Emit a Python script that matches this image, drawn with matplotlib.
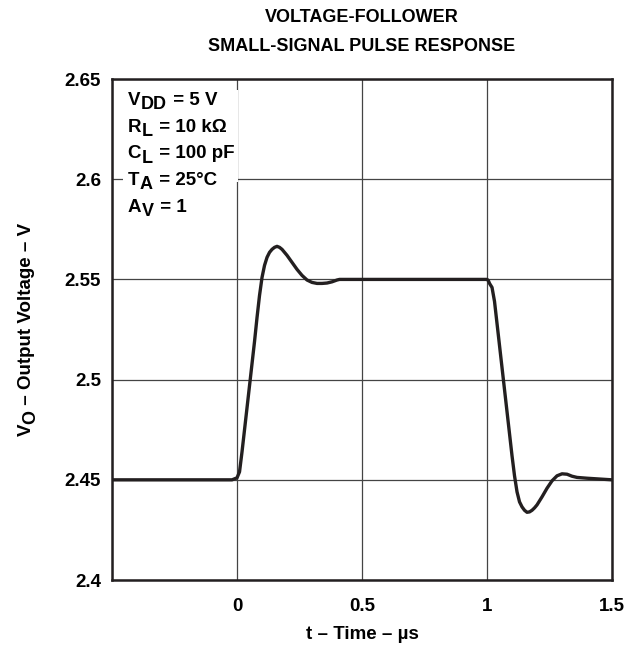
import matplotlib
matplotlib.use("Agg")
import matplotlib.pyplot as plt
from matplotlib.patches import Rectangle

plt.rcParams['font.family'] = ['Liberation Sans', 'DejaVu Sans']
plt.rcParams['font.weight'] = 'bold'

# Data (t in µs, Vo in V)
time_us = [-0.5, -0.02, 0.0, 0.01, 0.02, 0.03, 0.04, 0.05, 0.06, 0.07, 0.08, 0.09,
           0.10, 0.11, 0.12, 0.13, 0.14, 0.15, 0.16, 0.17, 0.18, 0.19, 0.20, 0.22,
           0.24, 0.26, 0.28, 0.30, 0.32, 0.34, 0.36, 0.38, 0.40, 0.41,
           1.0, 1.005, 1.01, 1.02, 1.03, 1.04, 1.05, 1.06, 1.07, 1.08, 1.09, 1.10,
           1.11, 1.12, 1.13, 1.14, 1.15, 1.16, 1.17, 1.18, 1.19, 1.20, 1.22, 1.24,
           1.26, 1.28, 1.30, 1.32, 1.34, 1.36, 1.40, 1.45, 1.5]
vout = [2.45, 2.45, 2.451, 2.454, 2.464, 2.475, 2.486, 2.497, 2.508, 2.519, 2.531, 2.542,
        2.551, 2.557, 2.561, 2.5635, 2.565, 2.566, 2.5665, 2.566, 2.565, 2.5635, 2.562, 2.5585,
        2.555, 2.552, 2.5497, 2.5485, 2.548, 2.548, 2.5482, 2.5488, 2.5497, 2.55,
        2.55, 2.5495, 2.548, 2.546, 2.539, 2.528, 2.517, 2.506, 2.495, 2.484, 2.473, 2.462,
        2.452, 2.444, 2.439, 2.4365, 2.4348, 2.4338, 2.434, 2.4348, 2.436, 2.4375, 2.4415, 2.4458,
        2.4495, 2.452, 2.453, 2.4528, 2.4518, 2.4512, 2.4508, 2.4504, 2.45]

x_ticks = [-0.5, 0, 0.5, 1, 1.5]
x_tick_labels = ['', '0', '0.5', '1', '1.5']
y_ticks = [2.4, 2.45, 2.5, 2.55, 2.6, 2.65]
y_tick_labels = ['2.4', '2.45', '2.5', '2.55', '2.6', '2.65']
# (symbol, subscript, rest)
conditions = [('V', 'DD', ' = 5 V'),
              ('R', 'L', ' = 10 kΩ'),
              ('C', 'L', ' = 100 pF'),
              ('T', 'A', ' = 25°C'),
              ('A', 'V', ' = 1')]
ylabel_parts = ('V', 'O', ' – Output Voltage – V')

FS = 13.5
SUB_FS = 13
SUB_OFF = 3.0  # points

fig = plt.figure(figsize=(6.42, 6.54), dpi=100)
ax = fig.add_axes([0.1745, 0.1131, 0.7788, 0.7661])

ax.plot(time_us, vout, color='#231f20', lw=2.4, zorder=3, solid_capstyle='round')

ax.set_xlim(-0.5, 1.5)
ax.set_ylim(2.4, 2.65)
ax.set_xticks(x_ticks)
ax.set_xticklabels(x_tick_labels)
ax.set_yticks(y_ticks)
ax.set_yticklabels(y_tick_labels)
ax.tick_params(direction='in', length=0, labelsize=FS, pad=8)
ax.tick_params(axis='x', pad=13)
ax.grid(True, color='#444444', lw=0.9)
ax.set_axisbelow(True)
for s in ax.spines.values():
    s.set_linewidth(1.8)
    s.set_color('#231f20')

# white background behind the condition block
ax.add_patch(Rectangle((-0.455, 2.5985), 0.458, 0.046, facecolor='white',
                       edgecolor='none', zorder=1.5))

# condition lines with full-size lowered subscripts
for i, (sym, sub, rest) in enumerate(conditions):
    t1 = ax.text(0.031, 0.9395 - i * 0.053, sym, transform=ax.transAxes, fontsize=FS,
                 fontweight='bold', va='bottom', ha='left', zorder=4)
    t2 = ax.annotate(sub, xy=(1, 0), xycoords=t1, xytext=(0.5, -SUB_OFF),
                     textcoords='offset points', fontsize=SUB_FS, fontweight='bold',
                     va='bottom', ha='left', zorder=4)
    ax.annotate(rest, xy=(1, 0), xycoords=t2, xytext=(1, SUB_OFF),
                textcoords='offset points', fontsize=FS, fontweight='bold',
                va='bottom', ha='left', zorder=4)

# rotated y label with lowered subscript
y1 = fig.text(0.055, 0.333, ylabel_parts[0], rotation=90, fontsize=FS, fontweight='bold',
              ha='right', va='bottom')
y2 = fig.add_artist(plt.Annotation(ylabel_parts[1], xy=(1, 1), xycoords=y1,
                                   xytext=(SUB_OFF, 0), textcoords='offset points',
                                   rotation=90, fontsize=SUB_FS, fontweight='bold',
                                   ha='right', va='bottom'))
fig.add_artist(plt.Annotation(ylabel_parts[2], xy=(1, 1), xycoords=y2,
                              xytext=(-SUB_OFF, 0), textcoords='offset points',
                              rotation=90, fontsize=FS, fontweight='bold',
                              ha='right', va='bottom'))

ax.set_xlabel('t – Time – µs', fontsize=FS, fontweight='bold', labelpad=8)
fig.suptitle('VOLTAGE-FOLLOWER\nSMALL-SIGNAL PULSE RESPONSE', fontsize=13,
             fontweight='bold', x=0.563, y=0.986, va='top', linespacing=1.9)

fig.savefig('out.png', dpi=100)
